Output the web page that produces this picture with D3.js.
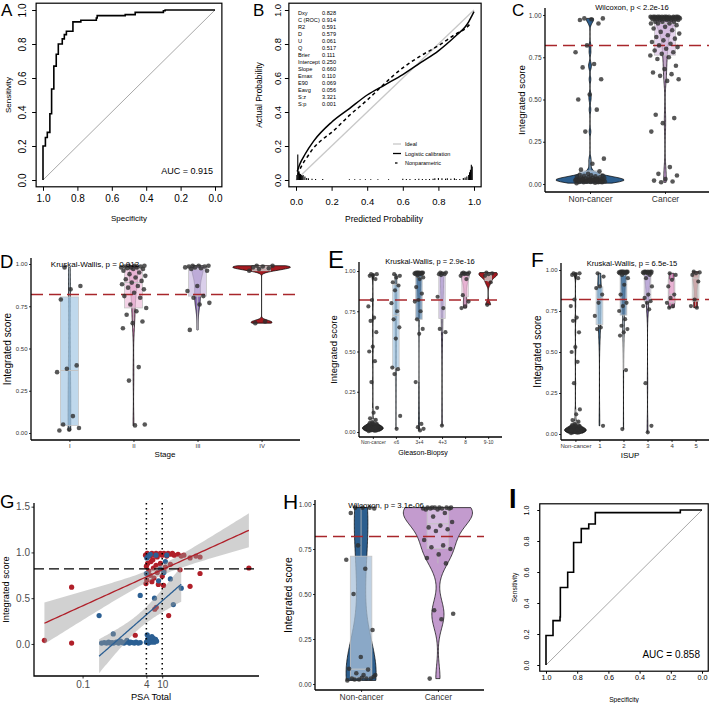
<!DOCTYPE html>
<html>
<head>
<meta charset="utf-8">
<script src="https://cdn.jsdelivr.net/npm/d3@7"></script>
<style>
body { margin: 0; background: #fff; }
svg { display: block; font-family: "Liberation Sans", Arial, Helvetica, sans-serif; }
</style>
</head>
<body>
<svg id="fig" width="709" height="703"></svg>
<script>
// ---------------- data ----------------
// A: ROC (specificity / sensitivity corners)
const rocASpec = [1, 1, 0.986, 0.975, 0.96, 0.95, 0.937, 0.923, 0.911, 0.888, 0.876, 0.864, 0.826, 0.78, 0.69, 0.685, 0.522, 0.464, 0.3, 0.29, 0];
const rocASens = [0, 0.2, 0.25, 0.28, 0.39, 0.535, 0.67, 0.74, 0.80, 0.83, 0.855, 0.875, 0.93, 0.94, 0.953, 0.967, 0.973, 0.986, 0.996, 1, 1];
// I: ROC
const rocISpec = [1, 1, 0.955, 0.91, 0.908, 0.861, 0.823, 0.774, 0.726, 0.684, 0.139, 0];
const rocISens = [0, 0.19, 0.286, 0.31, 0.5, 0.598, 0.79, 0.88, 0.91, 0.983, 1, 1];

// B: calibration
const calLogP = [0.007, 0.02, 0.05, 0.1, 0.2, 0.3, 0.4, 0.5, 0.6, 0.7, 0.8, 0.9, 0.95, 0.97, 0.99, 1.0];
const calLogA = [0.05, 0.09, 0.15, 0.23, 0.34, 0.42, 0.50, 0.56, 0.62, 0.69, 0.76, 0.85, 0.90, 0.93, 0.97, 0.99];
const calNpP = [0.01, 0.03, 0.06, 0.1, 0.15, 0.2, 0.3, 0.4, 0.5, 0.6, 0.7, 0.8, 0.9, 0.95, 0.98];
const calNpA = [0.03, 0.08, 0.13, 0.19, 0.24, 0.28, 0.38, 0.47, 0.57, 0.66, 0.73, 0.79, 0.86, 0.89, 0.92];
const histP = [0.005, 0.01, 0.015, 0.02, 0.025, 0.03, 0.035, 0.04, 0.05, 0.06, 0.07, 0.09, 0.11, 0.15, 0.3, 0.33, 0.36, 0.39, 0.42, 0.46, 0.52,
  0.6, 0.62, 0.64, 0.67, 0.69, 0.71, 0.73, 0.75, 0.77, 0.78, 0.8, 0.82, 0.84, 0.85, 0.87, 0.89, 0.9, 0.92, 0.94, 0.95, 0.96, 0.97, 0.975, 0.98, 0.985, 0.99];
const histH = [0.03, 0.15, 0.05, 0.04, 0.035, 0.03, 0.025, 0.03, 0.02, 0.012, 0.01, 0.008, 0.006, 0.006, 0.005, 0.005, 0.005, 0.005, 0.005, 0.005, 0.005,
  0.008, 0.006, 0.006, 0.006, 0.008, 0.006, 0.006, 0.006, 0.008, 0.01, 0.012, 0.01, 0.008, 0.01, 0.008, 0.01, 0.006, 0.006, 0.012, 0.015, 0.02, 0.03, 0.045, 0.06, 0.09, 0.08];
const statNames = ["Dxy", "C (ROC)", "R2", "D", "U", "Q", "Brier", "Intercept", "Slope", "Emax", "E90", "Eavg", "S:z", "S:p"];
const statVals = ["0.828", "0.914", "0.591", "0.579", "0.061", "0.517", "0.111", "0.250", "0.660", "0.110", "0.069", "0.056", "3.321", "0.001"];

// C / E / F: integrated scores
const nonCancer = [0.98, 0.98, 0.975, 0.97, 0.95, 0.82, 0.78, 0.71, 0.69, 0.62, 0.53, 0.50, 0.44, 0.31, 0.15, 0.12, 0.085, 0.075, 0.06,
  0.005, 0.008, 0.01, 0.01, 0.012, 0.012, 0.014, 0.015, 0.015, 0.016, 0.018, 0.018, 0.02, 0.02, 0.02, 0.021, 0.022, 0.023, 0.024, 0.025,
  0.025, 0.026, 0.027, 0.028, 0.03, 0.03, 0.031, 0.032, 0.033, 0.035, 0.036, 0.038, 0.04, 0.04, 0.042, 0.045, 0.048, 0.05, 0.052, 0.055,
  0.01, 0.015, 0.02, 0.025, 0.03, 0.012, 0.018, 0.022, 0.028];
const cancer = [0.99, 0.99, 0.99, 0.99, 0.99, 0.99, 0.99, 0.99, 0.99, 0.99, 0.99, 0.99, 0.985, 0.985, 0.985, 0.985, 0.985, 0.985, 0.985, 0.985,
  0.98, 0.98, 0.98, 0.98, 0.98, 0.98, 0.98, 0.98, 0.975, 0.975, 0.975, 0.975, 0.975, 0.97, 0.97, 0.97, 0.97, 0.96, 0.96, 0.96, 0.95, 0.95, 0.95,
  0.94, 0.93, 0.92, 0.91, 0.90, 0.89, 0.88, 0.87, 0.86, 0.85, 0.84, 0.83, 0.82, 0.81, 0.80, 0.79, 0.78, 0.77, 0.76, 0.75, 0.74, 0.70, 0.68,
  0.66, 0.65, 0.64, 0.62, 0.61, 0.41, 0.39, 0.36, 0.31, 0.10, 0.06, 0.05, 0.03, 0.02, 0.015, 0.01];

// D: stage
const stageCats = ["I", "II", "III", "IV"];
const stageI = [0.98, 0.87, 0.85, 0.79, 0.40, 0.38, 0.36, 0.10, 0.05, 0.03, 0.02, 0.015];
const stageII = [0.99, 0.99, 0.99, 0.985, 0.985, 0.98, 0.98, 0.98, 0.975, 0.97, 0.97, 0.96, 0.95, 0.94, 0.93, 0.92, 0.91, 0.90, 0.89, 0.88,
  0.87, 0.86, 0.85, 0.83, 0.81, 0.80, 0.76, 0.74, 0.72, 0.70, 0.66, 0.65, 0.62, 0.39, 0.31, 0.05, 0.045];
const stageIII = [0.99, 0.99, 0.99, 0.985, 0.985, 0.98, 0.98, 0.975, 0.97, 0.96, 0.87, 0.84, 0.81, 0.80, 0.77, 0.76, 0.61];
const stageIV = [0.99, 0.99, 0.985, 0.98, 0.975, 0.97, 0.96, 0.66, 0.65];

// E: Gleason biopsy
const gleasonCats = ["Non-cancer", "≤6", "3+4", "4+3", "8", "9-10"];
const gl6 = [0.98, 0.97, 0.96, 0.93, 0.91, 0.88, 0.80, 0.75, 0.70, 0.65, 0.58, 0.40, 0.39, 0.36, 0.10, 0.02];
const gl34 = [0.99, 0.99, 0.99, 0.99, 0.99, 0.99, 0.985, 0.985, 0.985, 0.985, 0.98, 0.98, 0.98, 0.97, 0.96, 0.95, 0.90, 0.86, 0.82, 0.81,
  0.75, 0.70, 0.64, 0.61, 0.31, 0.05, 0.03, 0.02, 0.01];
const gl43 = [0.99, 0.99, 0.985, 0.98, 0.98, 0.975, 0.84, 0.77, 0.64, 0.62, 0.04];
const gl8 = [0.99, 0.99, 0.985, 0.985, 0.98, 0.98, 0.97, 0.95, 0.85, 0.81, 0.78, 0.77];
const gl910 = [0.99, 0.985, 0.98, 0.97, 0.93, 0.79];

// F: ISUP
const isupCats = ["Non-cancer", "1", "2", "3", "4", "5"];
const isup1 = [0.98, 0.96, 0.90, 0.89, 0.85, 0.80, 0.72, 0.65, 0.64, 0.05];
const isup2 = [0.99, 0.99, 0.99, 0.99, 0.99, 0.99, 0.985, 0.985, 0.985, 0.985, 0.98, 0.98, 0.98, 0.97, 0.95, 0.91, 0.85, 0.80, 0.78, 0.75,
  0.70, 0.66, 0.64, 0.62, 0.60, 0.39, 0.03];
const isup3 = [0.99, 0.99, 0.99, 0.99, 0.99, 0.985, 0.985, 0.985, 0.985, 0.98, 0.98, 0.98, 0.97, 0.95, 0.90, 0.85, 0.83, 0.81, 0.80, 0.78,
  0.76, 0.31, 0.05, 0.01];
const isup4 = [0.98, 0.97, 0.94, 0.90, 0.85, 0.83, 0.80, 0.78, 0.77];
const isup5 = [0.99, 0.985, 0.98, 0.97, 0.93, 0.82, 0.78, 0.77];

// H: second cohort
const hNonCancer = [0.98, 0.975, 0.98, 0.95, 0.98, 0.77, 0.69, 0.64, 0.50, 0.30, 0.15, 0.085, 0.08, 0.06, 0.05, 0.05, 0.03, 0.03, 0.025,
  0.02, 0.03, 0.025, 0.04, 0.035];
const hCancer = [0.98, 0.98, 0.98, 0.98, 0.98, 0.98, 0.975, 0.975, 0.975, 0.975, 0.97, 0.97, 0.95, 0.93, 0.90, 0.88, 0.87, 0.86, 0.85,
  0.80, 0.77, 0.76, 0.75, 0.72, 0.70, 0.67, 0.41, 0.39, 0.36, 0.03];

// G: PSA vs score
const gRedPsa = [0.011, 0.053, 0.053, 0.46, 2.1, 1500,
  3.8, 4.2, 4.5, 5, 5.5, 6, 6.5, 7, 7.5, 8, 9, 10, 11, 12, 13, 14, 16, 18, 20, 25, 30, 35, 50, 70, 89,
  4, 4.3, 4.6, 5, 5.2, 5.5, 6, 6.2, 7, 7.5, 8, 9, 10, 10.8, 11, 12, 14.5, 7.1, 6.5, 28, 50, 89, 4.1, 3.9, 5.8, 16];
const gRedScore = [0.04, 0.62, 0.01, 0.015, 0.095, 0.83,
  0.97, 0.99, 0.98, 0.96, 0.99, 0.98, 0.97, 0.99, 0.95, 0.98, 0.99, 0.97, 0.99, 0.98, 0.96, 0.99, 0.98, 0.99, 0.97, 0.98, 0.96, 0.97, 0.94, 0.96, 0.95,
  0.85, 0.88, 0.80, 0.75, 0.90, 0.68, 0.83, 0.72, 0.86, 0.78, 0.65, 0.88, 0.74, 0.64, 0.80, 0.84, 0.31, 0.40, 0.38, 0.81, 0.63, 0.77, 0.70, 0.66, 0.92, 0.87];
const gBluePsa = [0.26, 0.59, 2.8, 4.1, 4, 6.4, 8.1, 16, 30, 19, 13, 5, 7, 9, 11, 4.5, 12,
  0.3, 0.35, 0.4, 0.45, 0.5, 0.55, 0.6, 0.7, 0.8, 0.9, 1.0, 1.1, 1.2, 1.3, 1.5, 1.6, 1.8, 2.0, 2.2, 2.5, 2.8,
  4, 4.3, 4.5, 4.8, 5, 5.3, 5.6, 6, 6.3, 6.8, 7.2, 4.2, 5.5];
const gBlueScore = [0.31, 0.11, 0.53, 0.94, 0.77, 0.50, 0.69, 0.71, 0.61, 0.43, 0.97, 0.98, 0.97, 0.82, 0.78, 0.96, 0.9,
  0.01, 0.015, 0.01, 0.02, 0.01, 0.015, 0.01, 0.02, 0.01, 0.03, 0.015, 0.01, 0.02, 0.04, 0.01, 0.02, 0.015, 0.01, 0.02, 0.01, 0.015,
  0.02, 0.05, 0.01, 0.03, 0.07, 0.02, 0.04, 0.06, 0.02, 0.05, 0.03, 0.1, 0.08];

const cutoff = 0.82;

// ---------------- setup ----------------
const svg = d3.select("#fig");
const FONT = "'Liberation Sans', Arial, Helvetica, sans-serif";
const COL = {
  nc: { v: "#2c5e8e", b: "#a9c2da" },
  ca: { v: "#c39bce", b: "#dcc5e5" },
  ncDark: { v: "#2b2b2b", b: "#d0d0d0" },
  lb: { v: "#3f6f98", b: "#a9cbe6" },
  db: { v: "#2b5a86", b: "#6189b0" },
  pu: { v: "#8c70b8", b: "#cdbfe3" },
  pk: { v: "#d27fb5", b: "#efc3de" },
  dr: { v: "#a31a20", b: "#d9d9d9" }
};
const RED = "#b01f29", BLUE = "#2b5f93";

function txt(t, x, y, size, o = {}) {
  const el = svg.append("text").attr("x", x).attr("y", y).attr("font-size", size)
    .attr("text-anchor", o.anchor || "start").attr("fill", o.fill || "#000").text(t);
  if (o.rotate) el.attr("transform", `rotate(-90,${x},${y})`);
  if (o.weight) el.attr("font-weight", o.weight);
  return el;
}

// deterministic jitter in [-1, 1]
const jit = i => ((i * 0.6180339887 + 0.31) % 1) * 2 - 1;

// ---------------- R style frame (A, B, I) ----------------
function rFrame(x, y, o) {
  const xr = x.range(), yr = y.range();
  const xw = Math.abs(xr[1] - xr[0]), yh = Math.abs(yr[1] - yr[0]);
  const left = Math.min(...xr) - 0.04 * xw, right = Math.max(...xr) + 0.04 * xw;
  const top = Math.min(...yr) - 0.04 * yh, bottom = Math.max(...yr) + 0.04 * yh;

  const ax = svg.append("g").attr("transform", `translate(0,${bottom})`)
    .call(d3.axisBottom(x).tickValues(o.ticks).tickFormat(d3.format(".1f")).tickSize(o.tick).tickPadding(o.xpad));
  ax.select(".domain").remove();
  ax.attr("font-size", o.font).attr("font-family", FONT);
  ax.selectAll("text").attr("fill", "#000");
  ax.selectAll("line").attr("stroke", "#000");

  const ay = svg.append("g").attr("transform", `translate(${left},0)`)
    .call(d3.axisLeft(y).tickValues(o.ticks).tickFormat(d3.format(".1f")).tickSize(o.tick));
  ay.select(".domain").remove();
  ay.attr("font-size", o.font).attr("font-family", FONT);
  ay.selectAll("line").attr("stroke", "#000");
  ay.selectAll("text").attr("fill", "#000").attr("transform", "rotate(-90)")
    .attr("x", 0).attr("y", -o.yoff).attr("dy", 0).attr("text-anchor", "middle");

  return { left, right, top, bottom };
}

function drawBox(b, w) {
  svg.append("rect").attr("x", b.left).attr("y", b.top).attr("width", b.right - b.left).attr("height", b.bottom - b.top)
    .attr("fill", "none").attr("stroke", "#000").attr("stroke-width", w);
}

function rocPanel(p) {
  const x = d3.scaleLinear().domain([1, 0]).range([p.x1, p.x0]);
  const y = d3.scaleLinear().domain([0, 1]).range([p.y0, p.y1]);
  const b = rFrame(x, y, p);
  svg.append("line").attr("x1", x(1)).attr("y1", y(0)).attr("x2", x(0)).attr("y2", y(1))
    .attr("stroke", "#a8a8a8").attr("stroke-width", 1);
  const pts = p.spec.map((s, i) => [s, p.sens[i]]);
  svg.append("path").attr("d", d3.line().x(d => x(d[0])).y(d => y(d[1])).curve(d3.curveStepAfter)(pts))
    .attr("fill", "none").attr("stroke", "#000").attr("stroke-width", 1.6);
  drawBox(b, 1.2);
  txt(p.auc, p.aucX, p.aucY, p.aucFont, { anchor: "end" });
  txt("Sensitivity", p.ylabX, (b.top + b.bottom) / 2, p.labFont, { anchor: "middle", rotate: true });
  txt("Specificity", (b.left + b.right) / 2, p.xlabY, p.labFont, { anchor: "middle" });
}

// A
rocPanel({ x0: 215, x1: 43, y0: 180, y1: 10, spec: rocASpec, sens: rocASens, ticks: [1, 0.8, 0.6, 0.4, 0.2, 0],
  tick: 4, xpad: 4.5, yoff: 10, font: 10, auc: "AUC = 0.915", aucX: 213, aucY: 174, aucFont: 9,
  ylabX: 11, xlabY: 221, labFont: 8 });

// I
rocPanel({ x0: 702, x1: 546, y0: 665, y1: 510, spec: rocISpec, sens: rocISens, ticks: [1, 0.8, 0.6, 0.4, 0.2, 0],
  tick: 2.5, xpad: 1, yoff: 10.5, font: 7.2, auc: "AUC = 0.858", aucX: 700, aucY: 658, aucFont: 10,
  ylabX: 516.5, xlabY: 701.5, labFont: 6.6 });

// ---------------- B: calibration ----------------
(function () {
  const x = d3.scaleLinear().domain([0, 1]).range([296, 474]);
  const y = d3.scaleLinear().domain([0, 1]).range([180, 10]);
  const b = rFrame(x, y, { ticks: [0, 0.2, 0.4, 0.6, 0.8, 1], tick: 4, xpad: 7.5, yoff: 7.8, font: 9.5 });
  svg.append("line").attr("x1", x(0)).attr("y1", y(0)).attr("x2", x(1)).attr("y2", y(1))
    .attr("stroke", "#c8c8c8").attr("stroke-width", 1.3);
  const line = d3.line().x(d => x(d[0])).y(d => y(d[1])).curve(d3.curveMonotoneX);
  svg.append("path").attr("d", line(calLogP.map((p, i) => [p, calLogA[i]])))
    .attr("fill", "none").attr("stroke", "#000").attr("stroke-width", 1.5);
  svg.append("path").attr("d", line(calNpP.map((p, i) => [p, calNpA[i]])))
    .attr("fill", "none").attr("stroke", "#000").attr("stroke-width", 1.5).attr("stroke-dasharray", "3.5,3");
  svg.append("g").selectAll("line").data(histP).join("line")
    .attr("x1", d => x(d)).attr("x2", d => x(d)).attr("y1", y(0)).attr("y2", (d, i) => y(histH[i]))
    .attr("stroke", "#000").attr("stroke-width", 1.1);
  drawBox(b, 1.2);
  statNames.forEach((s, i) => {
    txt(s, 298, 14.8 + i * 7.05, 5.6);
    txt(statVals[i], 322, 14.8 + i * 7.05, 5.6);
  });
  const leg = [["Ideal", "#c8c8c8", null], ["Logistic calibration", "#000", null], ["Nonparametric", "#000", "2.5,3"]];
  leg.forEach((l, i) => {
    const ly = 144 + i * 9.5;
    const ln = svg.append("line").attr("x1", 393).attr("x2", 401).attr("y1", ly).attr("y2", ly)
      .attr("stroke", l[1]).attr("stroke-width", 1.3);
    if (l[2]) ln.attr("stroke-dasharray", l[2]).attr("x1", 395).attr("x2", 400);
    txt(l[0], 405, ly + 2, 5.5);
  });
  txt("Actual Probability", 262, (b.top + b.bottom) / 2, 8.5, { anchor: "middle", rotate: true });
  txt("Predicted Probability", 384, 222, 8.5, { anchor: "middle" });
})();

// ---------------- violin panels ----------------
function kde(vals) {
  const s = vals.slice().sort(d3.ascending);
  const n = s.length;
  const sd = d3.deviation(s);
  const iqr = (d3.quantileSorted(s, 0.75) - d3.quantileSorted(s, 0.25)) / 1.34;
  let lo = Math.min(sd, iqr);
  if (!(lo > 0)) lo = sd > 0 ? sd : 0.01;
  const bw = 0.9 * lo * Math.pow(n, -0.2);
  const a = s[0], z = s[n - 1];
  return d3.range(128).map(k => {
    const v = a + (z - a) * k / 127;
    return [v, d3.mean(s, d => Math.exp(-0.5 * ((v - d) / bw) ** 2)) / (bw * Math.sqrt(2 * Math.PI))];
  });
}

function violinPanel(p) {
  const n = p.cats.length;
  const step = (p.right - p.left) / (n + 0.2);
  const x = d3.scalePoint().domain(p.cats).range([p.left + 0.6 * step, p.right - 0.6 * step]);
  const y = d3.scaleLinear().domain([0, 1]).range([p.y0, p.y1]);
  const g = svg.append("g");

  const dens = p.groups.map(kde);
  const maxD = d3.max(dens, d => d3.max(d, e => e[1]));
  const hw = 0.45 * step;
  dens.forEach((d, i) => {
    const cx = x(p.cats[i]);
    const area = d3.area().y(e => y(e[0]))
      .x0(e => cx - e[1] / maxD * hw).x1(e => cx + e[1] / maxD * hw);
    g.append("path").attr("d", area(d)).attr("fill", p.colors[i].v)
      .attr("stroke", "#000").attr("stroke-width", 0.7);
  });

  // boxplots
  const bw = 0.28 * step;
  p.groups.forEach((vals, i) => {
    const s = vals.slice().sort(d3.ascending);
    const q1 = d3.quantileSorted(s, 0.25), md = d3.quantileSorted(s, 0.5), q3 = d3.quantileSorted(s, 0.75);
    const iqr = q3 - q1;
    const lo = d3.min(s.filter(v => v >= q1 - 1.5 * iqr));
    const hi = d3.max(s.filter(v => v <= q3 + 1.5 * iqr));
    const cx = x(p.cats[i]);
    g.append("line").attr("x1", cx).attr("x2", cx).attr("y1", y(hi)).attr("y2", y(q3))
      .attr("stroke", "#bdbdbd").attr("stroke-width", 0.8);
    g.append("line").attr("x1", cx).attr("x2", cx).attr("y1", y(q1)).attr("y2", y(lo))
      .attr("stroke", "#bdbdbd").attr("stroke-width", 0.8);
    g.append("rect").attr("x", cx - bw / 2).attr("y", y(q3)).attr("width", bw).attr("height", Math.max(0.5, y(q1) - y(q3)))
      .attr("fill", p.colors[i].b).attr("fill-opacity", 0.75).attr("stroke", "#c4c4c4").attr("stroke-width", 0.8);
    g.append("line").attr("x1", cx - bw / 2).attr("x2", cx + bw / 2).attr("y1", y(md)).attr("y2", y(md))
      .attr("stroke", "#c4c4c4").attr("stroke-width", 1);
  });

  // cutoff line
  g.append("line").attr("x1", p.left).attr("x2", p.right).attr("y1", y(cutoff)).attr("y2", y(cutoff))
    .attr("stroke", "#a8262b").attr("stroke-width", 1.5).attr("stroke-dasharray", "12,6");

  // jittered points
  p.groups.forEach((vals, i) => {
    const cx = x(p.cats[i]);
    g.append("g").selectAll("circle").data(vals).join("circle")
      .attr("cx", (d, k) => cx + jit(k) * 0.2 * step).attr("cy", d => y(d)).attr("r", p.r || 2.3)
      .attr("fill", "#2e2e2e").attr("fill-opacity", 0.8);
  });

  // axes
  const ay = svg.append("g").attr("transform", `translate(${p.left},0)`)
    .call(d3.axisLeft(y).tickValues([0, 0.25, 0.5, 0.75, 1]).tickFormat(d3.format(".2f")).tickSize(2).tickPadding(1.5));
  ay.select(".domain").remove();
  ay.attr("font-size", p.tickFont).attr("font-family", FONT);
  ay.selectAll("text").attr("fill", "#333");
  ay.selectAll("line").attr("stroke", "#333");
  svg.append("line").attr("x1", p.left).attr("x2", p.left).attr("y1", p.top).attr("y2", p.bottom)
    .attr("stroke", "#000").attr("stroke-width", 1.3);

  const ax = svg.append("g").attr("transform", `translate(0,${p.bottom})`)
    .call(d3.axisBottom(x).tickSize(2).tickPadding(2));
  ax.select(".domain").remove();
  ax.attr("font-size", p.catFont).attr("font-family", FONT);
  ax.selectAll("text").attr("fill", "#333");
  ax.selectAll("line").attr("stroke", "#333");
  svg.append("line").attr("x1", p.left).attr("x2", p.right).attr("y1", p.bottom).attr("y2", p.bottom)
    .attr("stroke", "#000").attr("stroke-width", 1.3);

  txt(p.title, p.titleX, p.titleY, p.titleFont, { anchor: "middle" });
  txt("Integrated score", p.ylabX + 0.36 * p.ylabFont, (p.top + p.bottom) / 2, p.ylabFont, { anchor: "middle", rotate: true });
  if (p.xlab) txt(p.xlab, p.xlabX, p.xlabY, p.xlabFont, { anchor: "middle" });
}

// C
violinPanel({ left: 545, right: 710, top: 8, bottom: 192, y0: 184, y1: 15,
  cats: ["Non-cancer", "Cancer"], groups: [nonCancer, cancer], colors: [COL.nc, COL.ca],
  tickFont: 6.5, catFont: 8.5, title: "Wilcoxon, p < 2.2e-16", titleX: 632, titleY: 10, titleFont: 7.6,
  ylabX: 522, ylabFont: 9.7 });

// D
violinPanel({ left: 31, right: 300, top: 258, bottom: 440, y0: 433, y1: 264,
  cats: stageCats, groups: [stageI, stageII, stageIII, stageIV], colors: [COL.lb, COL.pk, COL.pu, COL.dr],
  tickFont: 6, catFont: 6, title: "Kruskal-Wallis, p = 0.013", titleX: 95, titleY: 267, titleFont: 8,
  ylabX: 7.5, ylabFont: 10, xlab: "Stage", xlabX: 165, xlabY: 457, xlabFont: 8 });

// E
violinPanel({ left: 359, right: 502, top: 262, bottom: 437, y0: 432, y1: 271,
  cats: gleasonCats, groups: [nonCancer, gl6, gl34, gl43, gl8, gl910],
  colors: [COL.ncDark, COL.lb, COL.db, COL.pu, COL.pk, COL.dr], r: 2.1,
  tickFont: 5.5, catFont: 4.8, title: "Kruskal-Wallis, p = 2.9e-16", titleX: 430, titleY: 264, titleFont: 7.5,
  ylabX: 334, ylabFont: 9.5, xlab: "Gleason-Biopsy", xlabX: 423, xlabY: 455, xlabFont: 7 });

// F
violinPanel({ left: 561, right: 710, top: 263, bottom: 440, y0: 434, y1: 270,
  cats: isupCats, groups: [nonCancer, isup1, isup2, isup3, isup4, isup5],
  colors: [COL.ncDark, COL.lb, COL.db, COL.pu, COL.pk, COL.dr], r: 2.1,
  tickFont: 6, catFont: 6, title: "Kruskal-Wallis, p = 6.5e-15", titleX: 632, titleY: 266, titleFont: 7.6,
  ylabX: 537, ylabFont: 10, xlab: "ISUP", xlabX: 630, xlabY: 458, xlabFont: 8 });

// H
violinPanel({ left: 315, right: 484, top: 500, bottom: 690, y0: 684, y1: 504,
  cats: ["Non-cancer", "Cancer"], groups: [hNonCancer, hCancer], colors: [COL.nc, COL.ca],
  tickFont: 6.5, catFont: 8.5, title: "Wilcoxon, p = 3.1e-06", titleX: 386, titleY: 508, titleFont: 7.8,
  ylabX: 288, ylabFont: 10.5 });

// ---------------- G: PSA scatter ----------------
(function () {
  const left = 34, right = 259, top = 503, bottom = 676;
  const x = d3.scaleLog().domain([Math.pow(10, -2.22), Math.pow(10, 3.43)]).range([left, right]);
  const y = d3.scaleLinear().domain([-0.35, 1.54]).range([bottom, top]);
  const groups = [
    { psa: gRedPsa, sc: gRedScore, col: RED },
    { psa: gBluePsa, sc: gBlueScore, col: BLUE }
  ];
  groups.forEach(gr => {
    svg.append("g").selectAll("circle").data(gr.psa).join("circle")
      .attr("cx", d => x(d)).attr("cy", (d, i) => y(gr.sc[i])).attr("r", 2.6).attr("fill", gr.col);
  });
  // linear fits on log10(PSA)
  groups.forEach(gr => {
    const xs = gr.psa.map(Math.log10), ys = gr.sc;
    const n = xs.length, mx = d3.mean(xs), my = d3.mean(ys);
    const sxx = d3.sum(xs, v => (v - mx) ** 2);
    const sxy = d3.sum(xs, (v, i) => (v - mx) * (ys[i] - my));
    const b1 = sxy / sxx, b0 = my - b1 * mx;
    const s = Math.sqrt(d3.sum(xs, (v, i) => (ys[i] - b0 - b1 * v) ** 2) / (n - 2));
    const [lo, hi] = d3.extent(xs);
    const grid = d3.range(80).map(k => lo + (hi - lo) * k / 79);
    const fit = grid.map(v => {
      const f = b0 + b1 * v, se = 2.0 * s * Math.sqrt(1 / n + (v - mx) ** 2 / sxx);
      return { v, f, l: f - se, u: f + se };
    });
    svg.append("path").attr("d", d3.area().x(d => x(Math.pow(10, d.v))).y0(d => y(d.l)).y1(d => y(d.u))(fit))
      .attr("fill", "#999").attr("fill-opacity", 0.45);
    svg.append("path").attr("d", d3.line().x(d => x(Math.pow(10, d.v))).y(d => y(d.f))(fit))
      .attr("fill", "none").attr("stroke", gr.col).attr("stroke-width", 1.3);
  });
  svg.append("line").attr("x1", left).attr("x2", right).attr("y1", y(cutoff)).attr("y2", y(cutoff))
    .attr("stroke", "#000").attr("stroke-width", 1.3).attr("stroke-dasharray", "10,5");
  [4, 10].forEach(v => {
    svg.append("line").attr("x1", x(v)).attr("x2", x(v)).attr("y1", top).attr("y2", bottom)
      .attr("stroke", "#000").attr("stroke-width", 1.5).attr("stroke-dasharray", "1.6,3.4");
  });
  const ay = svg.append("g").attr("transform", `translate(${left},0)`)
    .call(d3.axisLeft(y).tickValues([0, 0.5, 1, 1.5]).tickFormat(d3.format(".1f")).tickSize(2.5).tickPadding(1.5));
  ay.select(".domain").remove();
  ay.attr("font-size", 10).attr("font-family", FONT);
  ay.selectAll("text").attr("fill", "#4d4d4d");
  ay.selectAll("line").attr("stroke", "#333");
  const ax = svg.append("g").attr("transform", `translate(0,${bottom})`)
    .call(d3.axisBottom(x).tickValues([0.1, 4, 10]).tickFormat(d => String(d)).tickSize(2.5).tickPadding(2));
  ax.select(".domain").remove();
  ax.attr("font-size", 10).attr("font-family", FONT);
  ax.selectAll("text").attr("fill", "#4d4d4d");
  ax.selectAll("line").attr("stroke", "#333");
  svg.append("path").attr("d", `M${left},${top}V${bottom}H${right}`).attr("fill", "none")
    .attr("stroke", "#000").attr("stroke-width", 1.3);
  txt("Integrated score", 6 + 0.36 * 9.2, (top + bottom) / 2, 9.2, { anchor: "middle", rotate: true });
  txt("PSA Total", 151, 700, 9.3, { anchor: "middle" });
})();

// ---------------- panel letters ----------------
[["A", 1, 16, 17], ["B", 253, 16, 17], ["C", 512, 16, 17], ["D", 0, 268, 18.5], ["E", 328, 268, 24],
 ["F", 531, 267, 21], ["G", 0, 508, 18.5], ["H", 283, 509, 21]].forEach(l => txt(l[0], l[1], l[2], l[3]));
txt("I", 509, 508, 27, { weight: "bold" });
</script>
</body>
</html>
